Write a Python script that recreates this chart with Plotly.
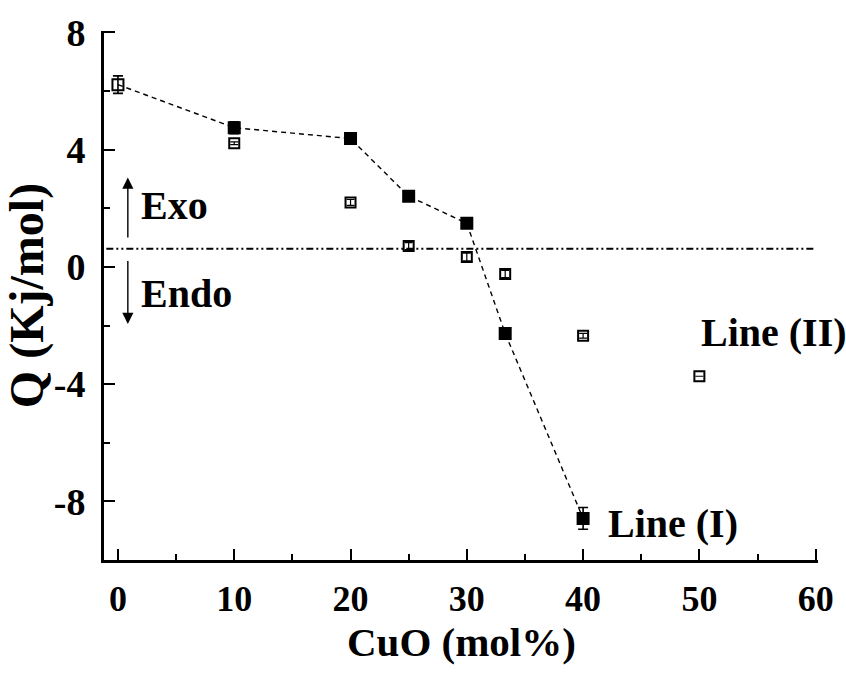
import plotly.graph_objects as go

# Heat of reaction Q vs CuO content
cuo_line1 = [0, 10, 20, 25, 30, 33.3, 40]
q_line1 = [6.22, 4.75, 4.38, 2.41, 1.49, -2.27, -8.58]
err_line1 = [0.3, 0.2, 0.17, 0.1, 0.1, 0.1, 0.37]
sym_line1 = ["square-open", "square", "square", "square", "square", "square", "square"]

cuo_line2 = [10, 20, 25, 30, 33.3, 40, 50]
q_line2 = [4.22, 2.2, 0.71, 0.34, -0.24, -2.35, -3.73]
err_line2 = [0.05, 0.1, 0.12, 0.13, 0.12, 0.08, 0.0]

baseline_x = [-1.0, 60.0]
baseline_q = [0.62, 0.62]

x_ticks = [0, 10, 20, 30, 40, 50, 60]
y_ticks = [-8, -4, 0, 4, 8]

font_family = "Liberation Serif"

fig = go.Figure()

# zero-heat reference (dash-dot-dot)
fig.add_trace(go.Scatter(
    x=baseline_x, y=baseline_q, mode="lines",
    line=dict(color="black", width=1.8, dash="7px,3px,2px,3px,2px,3px"),
    hoverinfo="skip", showlegend=False,
))

# Line (I): filled squares joined by a dashed line
fig.add_trace(go.Scatter(
    x=cuo_line1, y=q_line1, mode="lines+markers",
    line=dict(color="black", width=1.4, dash="5px,4px"),
    marker=dict(symbol=sym_line1, size=11, color="black",
                line=dict(color="black", width=2)),
    error_y=dict(type="data", array=err_line1, color="black",
                 thickness=1.6, width=5),
    showlegend=False,
))

# Line (II): open squares
fig.add_trace(go.Scatter(
    x=cuo_line2, y=q_line2, mode="markers",
    marker=dict(symbol="square-open", size=10, color="black",
                line=dict(color="black", width=2)),
    error_y=dict(type="data", array=err_line2, color="black",
                 thickness=1.2, width=4),
    showlegend=False,
))

label_font = dict(family=font_family, size=40, color="black")

annotations = [
    # Exo / Endo arrows
    dict(x=0.85, y=3.05, ax=0.85, ay=0.95, xref="x", yref="y", axref="x", ayref="y",
         showarrow=True, arrowhead=2, arrowsize=1.6, arrowwidth=1.4, arrowcolor="black", text=""),
    dict(x=0.85, y=-1.95, ax=0.85, ay=0.25, xref="x", yref="y", axref="x", ayref="y",
         showarrow=True, arrowhead=2, arrowsize=1.6, arrowwidth=1.4, arrowcolor="black", text=""),
    dict(x=1.8, y=2.1, xref="x", yref="y", text="<b>Exo</b>", showarrow=False,
         xanchor="left", yanchor="middle", font=label_font),
    dict(x=1.8, y=-0.9, xref="x", yref="y", text="<b>Endo</b>", showarrow=False,
         xanchor="left", yanchor="middle", font=label_font),
    dict(x=50.0, y=-2.25, xref="x", yref="y", text="<b>Line (II)</b>", showarrow=False,
         xanchor="left", yanchor="middle", font=label_font),
    dict(x=42.0, y=-8.75, xref="x", yref="y", text="<b>Line (I)</b>", showarrow=False,
         xanchor="left", yanchor="middle", font=label_font),
    # x-axis title
    dict(x=0.5, y=-0.155, xref="paper", yref="paper", text="<b>CuO (mol%)</b>", showarrow=False,
         xanchor="center", yanchor="middle",
         font=dict(family=font_family, size=41, color="black")),
]

fig.update_layout(
    width=846, height=673,
    margin=dict(l=104, r=24, t=27, b=113),
    paper_bgcolor="white", plot_bgcolor="white",
    font=dict(family=font_family, color="black"),
    annotations=annotations,
    xaxis=dict(
        range=[-1.2, 60.2], tickvals=x_ticks, ticktext=[f"<b>{v}</b>" for v in x_ticks],
        ticks="inside", ticklen=11, tickwidth=2, tickcolor="black",
        minor=dict(dtick=5, tick0=5, ticks="inside", ticklen=6, tickwidth=2, tickcolor="black"),
        showline=True, linecolor="black", linewidth=3, mirror=False,
        showgrid=False, zeroline=False,
        tickfont=dict(family=font_family, size=36, color="black"),
        ticklabelstandoff=5,
    ),
    yaxis=dict(
        range=[-10, 8.05], tickvals=y_ticks, ticktext=[f"<b>{v}</b>" for v in y_ticks],
        ticks="inside", ticklen=11, tickwidth=2, tickcolor="black",
        minor=dict(dtick=4, tick0=2, ticks="inside", ticklen=6, tickwidth=2, tickcolor="black"),
        showline=True, linecolor="black", linewidth=3, mirror=False,
        showgrid=False, zeroline=False,
        tickfont=dict(family=font_family, size=38, color="black"),
        ticklabelstandoff=8,
        title=dict(text="<b>Q (Kj/mol)</b>", font=dict(family=font_family, size=48, color="black"),
                   standoff=4),
    ),
)

fig.write_html("out.html")
